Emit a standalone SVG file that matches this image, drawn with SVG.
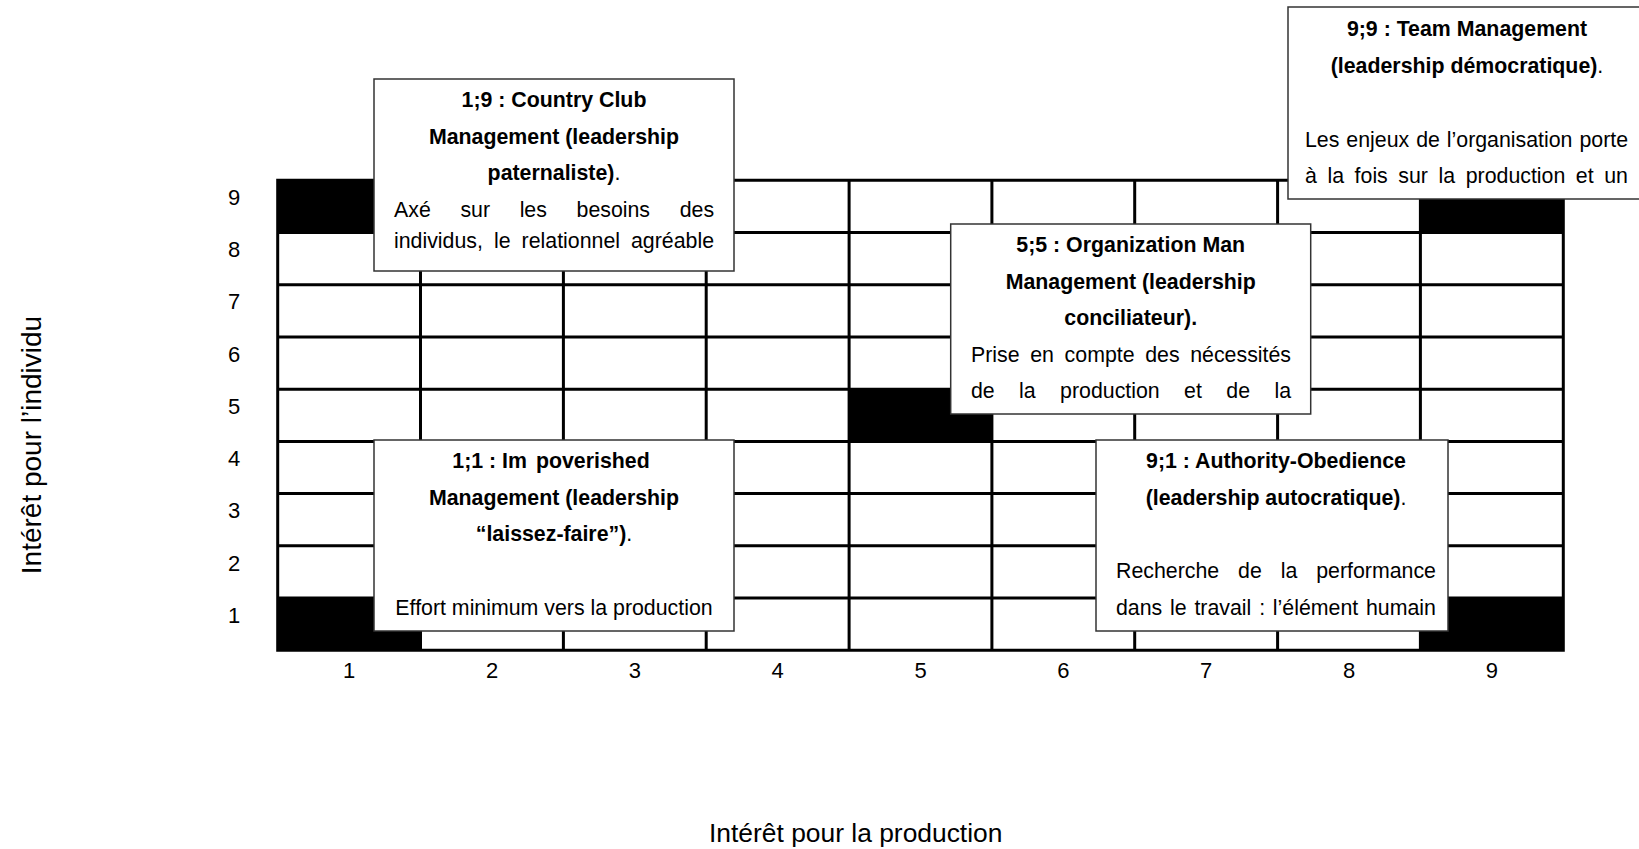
<svg xmlns="http://www.w3.org/2000/svg" width="1639" height="849" viewBox="0 0 1639 849">
<style>
.grid{stroke:#000;stroke-width:3;fill:none}
.cell{fill:#000}
.box{fill:#fff;stroke:#333;stroke-width:1.5}
text{font-family:"Liberation Sans",Arial,sans-serif;font-size:21.33px;fill:#000}
.b{font-weight:bold}
.c{text-anchor:middle}
.num{font-size:22px;text-anchor:middle}
.ax{font-size:28px}
.axh{font-size:26.4px}
</style>
<rect width="1639" height="849" fill="#fff"/>
<g id="grid">
<rect class="cell" x="277.7" y="180.3" width="142.8" height="52.2"/>
<rect class="cell" x="1420.4" y="180.3" width="142.9" height="52.2"/>
<rect class="cell" x="849.1" y="389.2" width="142.8" height="52.2"/>
<rect class="cell" x="277.7" y="598.1" width="142.8" height="52.2"/>
<rect class="cell" x="1420.4" y="598.1" width="142.9" height="52.2"/>
<path class="grid" d="M277.7 178.8V651.8M420.5 180.3V650.3M563.4 180.3V650.3M706.2 180.3V650.3M849.1 180.3V650.3M991.9 180.3V650.3M1134.7 180.3V650.3M1277.6 180.3V650.3M1420.4 180.3V650.3M1563.3 178.8V651.8M276.2 180.3H1564.8M276.2 232.5H1564.8M276.2 284.7H1564.8M276.2 337H1564.8M276.2 389.2H1564.8M276.2 441.4H1564.8M276.2 493.6H1564.8M276.2 545.8H1564.8M276.2 598.1H1564.8M276.2 650.3H1564.8"/>
</g>
<g id="y-labels">
<text class="num" x="234" y="205">9</text>
<text class="num" x="234" y="257.1">8</text>
<text class="num" x="234" y="309.4">7</text>
<text class="num" x="234" y="361.6">6</text>
<text class="num" x="234" y="413.8">5</text>
<text class="num" x="234" y="466">4</text>
<text class="num" x="234" y="518.2">3</text>
<text class="num" x="234" y="570.5">2</text>
<text class="num" x="234" y="622.7">1</text>
</g>
<g id="x-labels">
<text class="num" x="349.1" y="677.5">1</text>
<text class="num" x="492" y="677.5">2</text>
<text class="num" x="634.8" y="677.5">3</text>
<text class="num" x="777.7" y="677.5">4</text>
<text class="num" x="920.5" y="677.5">5</text>
<text class="num" x="1063.3" y="677.5">6</text>
<text class="num" x="1206.2" y="677.5">7</text>
<text class="num" x="1349" y="677.5">8</text>
<text class="num" x="1491.9" y="677.5">9</text>
</g>
<g id="axis-titles">
<text class="ax" transform="translate(41,445) rotate(-90)" text-anchor="middle">Intérêt pour l’individu</text>
<text class="axh" x="709" y="842">Intérêt pour la production</text>
</g>
<g id="box-1-9">
<rect class="box" x="374" y="79" width="360" height="192"/>
<text class="b c" x="554" y="107">1;9 : Country Club</text>
<text class="b c" x="554" y="143.7">Management (leadership</text>
<text class="c" x="554" y="180"><tspan class="b">paternaliste)</tspan>.</text>
<text x="394" y="217" word-spacing="23.7">Axé sur les besoins des</text>
<text x="394" y="248" word-spacing="5.1">individus, le relationnel agréable</text>
</g>
<g id="box-5-5">
<rect class="box" x="950.7" y="224" width="360" height="190"/>
<text class="b c" x="1130.7" y="252">5;5 : Organization Man</text>
<text class="b c" x="1130.7" y="288.7">Management (leadership</text>
<text class="b c" x="1130.7" y="325">conciliateur).</text>
<text x="971" y="362" word-spacing="4.72">Prise en compte des nécessités</text>
<text x="971" y="397.7" word-spacing="18.47">de la production et de la</text>
</g>
<g id="box-9-9">
<rect class="box" x="1288" y="7" width="360" height="192"/>
<text class="b c" x="1467" y="36">9;9 : Team Management</text>
<text class="c" x="1467" y="72.6"><tspan class="b">(leadership démocratique)</tspan>.</text>
<text x="1305" y="146.8" word-spacing="1.02">Les enjeux de l’organisation porte</text>
<text x="1305" y="183.4" word-spacing="4.64">à la fois sur la production et un</text>
</g>
<g id="box-1-1">
<rect class="box" x="374" y="440" width="360" height="191"/>
<text class="b c" x="551" y="468">1;1 : Im<tspan dx="9">poverished</tspan></text>
<text class="b c" x="554" y="504.7">Management (leadership</text>
<text class="c" x="554" y="541.4"><tspan class="b">“laissez-faire”)</tspan>.</text>
<text class="c" x="554" y="614.8">Effort minimum vers la production</text>
</g>
<g id="box-9-1">
<rect class="box" x="1096" y="440" width="352" height="191"/>
<text class="b c" x="1276" y="468">9;1 : Authority-Obedience</text>
<text class="c" x="1276" y="504.7"><tspan class="b">(leadership autocratique)</tspan>.</text>
<text x="1116" y="578" word-spacing="13">Recherche de la performance</text>
<text x="1116" y="614.8" word-spacing="1.87">dans le travail : l’élément humain</text>
</g>
<g id="connectors"></g>
</svg>
